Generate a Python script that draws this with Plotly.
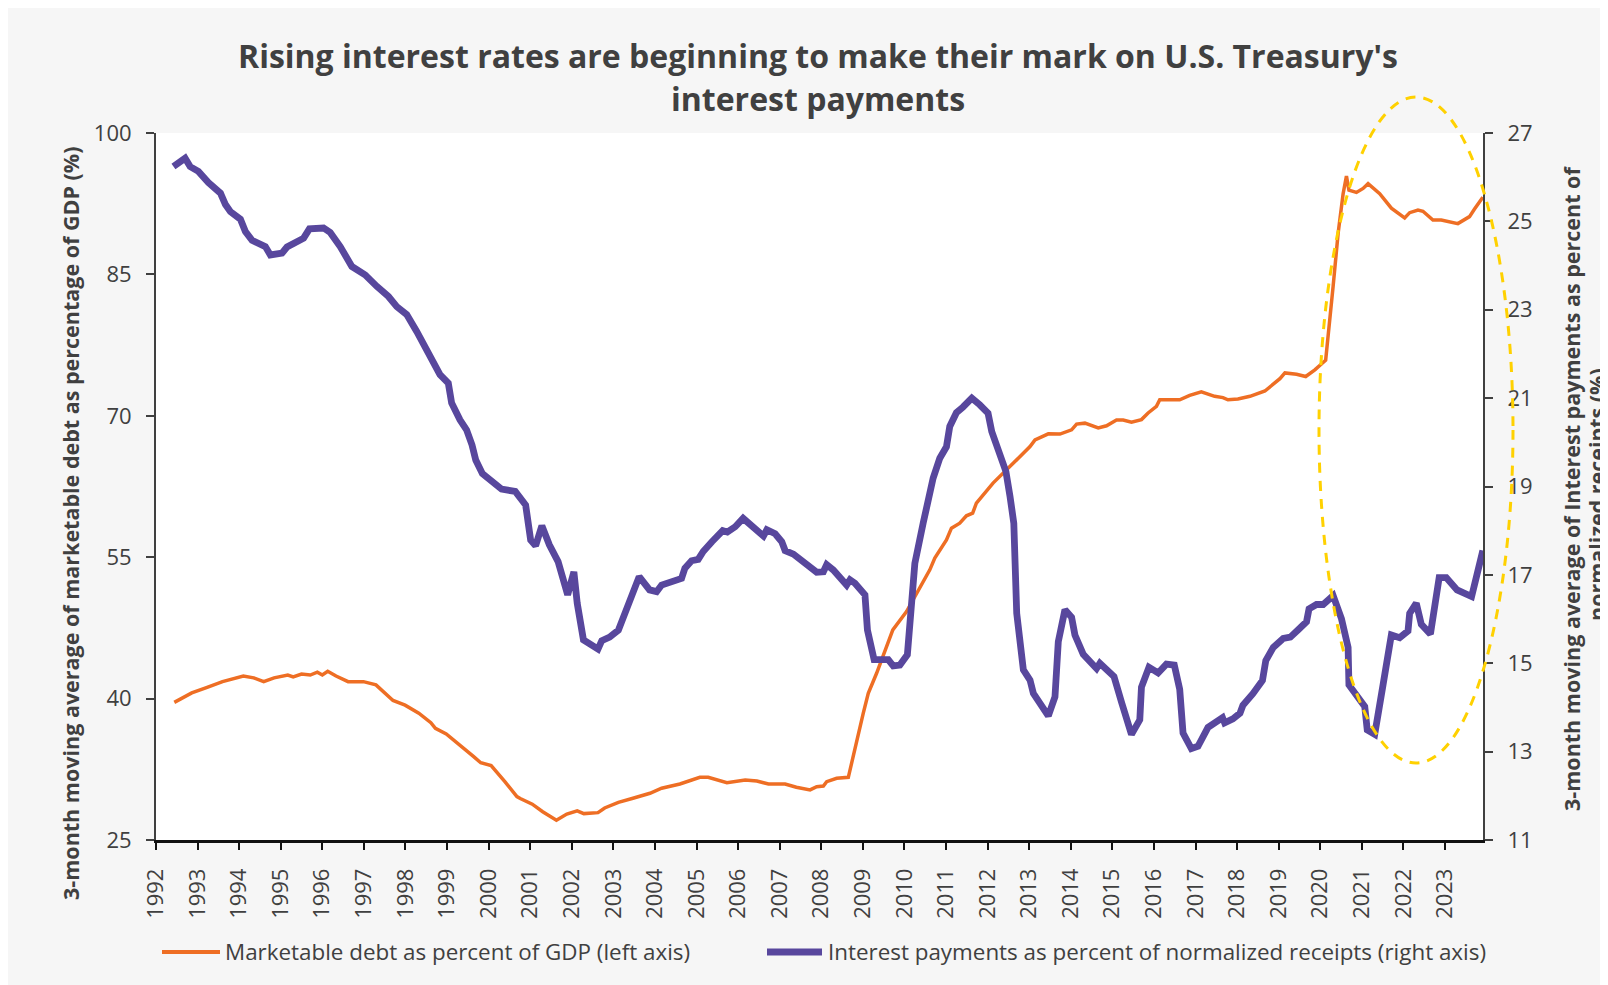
import plotly.graph_objects as go

# ---------------- data ----------------
debt_years = [1992.44, 1992.69, 1992.86, 1993.23, 1993.60, 1994.10, 1994.35, 1994.59, 1994.84, 1995.17,
              1995.30, 1995.50, 1995.71, 1995.88, 1996.00, 1996.13, 1996.33, 1996.62, 1996.99, 1997.29,
              1997.70, 1997.99, 1998.32, 1998.61, 1998.72, 1998.98, 1999.31, 1999.64, 1999.81, 2000.06,
              2000.39, 2000.68, 2000.76, 2001.05, 2001.30, 2001.63, 2001.88, 2002.13, 2002.29, 2002.63,
              2002.79, 2003.12, 2003.45, 2003.88, 2004.16, 2004.60, 2005.08, 2005.28, 2005.73, 2005.93,
              2006.17, 2006.45, 2006.73, 2007.13, 2007.40, 2007.73, 2007.89, 2008.05, 2008.13, 2008.37,
              2008.65, 2009.01, 2009.13, 2009.33, 2009.59, 2009.72, 2010.05, 2010.29, 2010.61, 2010.73,
              2011.01, 2011.13, 2011.33, 2011.49, 2011.64, 2011.73, 2012.13, 2012.62, 2013.02, 2013.14,
              2013.46, 2013.74, 2014.02, 2014.14, 2014.34, 2014.66, 2014.86, 2015.10, 2015.26, 2015.46,
              2015.70, 2015.86, 2016.06, 2016.14, 2016.62, 2016.86, 2017.14, 2017.46, 2017.66, 2017.78,
              2018.02, 2018.31, 2018.67, 2019.03, 2019.15, 2019.43, 2019.65, 2019.87, 2020.13, 2020.31,
              2020.43, 2020.55, 2020.63, 2020.69, 2020.87, 2021.03, 2021.15, 2021.43, 2021.71, 2022.03,
              2022.15, 2022.35, 2022.47, 2022.71, 2022.91, 2023.31, 2023.59, 2023.71, 2023.91]
debt_pct = [39.6, 40.2, 40.6, 41.2, 41.8, 42.4, 42.2, 41.8, 42.2, 42.5,
            42.3, 42.6, 42.5, 42.8, 42.5, 42.9, 42.4, 41.8, 41.8, 41.45,
            39.8, 39.3, 38.45, 37.45, 36.85, 36.25, 35.1, 33.85, 33.2, 32.9,
            31.2, 29.6, 29.4, 28.8, 28.0, 27.1, 27.75, 28.1, 27.8, 27.9,
            28.4, 29.0, 29.4, 29.96, 30.49, 30.94, 31.65, 31.65, 31.08, 31.19,
            31.37, 31.26, 30.94, 30.94, 30.59, 30.31, 30.66, 30.73, 31.19, 31.55,
            31.65, 38.45, 40.57, 42.69, 45.70, 47.29, 49.23, 51.18, 53.66, 54.90,
            56.84, 58.08, 58.61, 59.39, 59.67, 60.73, 62.86, 64.98, 66.74, 67.45,
            68.09, 68.06, 68.51, 69.12, 69.22, 68.71, 68.94, 69.55, 69.55, 69.32,
            69.6, 70.3, 71.0, 71.7, 71.7, 72.17, 72.54, 72.07, 71.93, 71.7,
            71.79, 72.07, 72.63, 73.94, 74.55, 74.41, 74.17, 74.87, 75.90, 83.75,
            89.36, 93.56, 95.43, 93.93, 93.70, 94.12, 94.63, 93.56, 92.02, 91.0,
            91.55, 91.83, 91.70, 90.76, 90.76, 90.39, 91.13, 91.93, 93.19]

int_years = [1992.42, 1992.58, 1992.70, 1992.82, 1993.02, 1993.26, 1993.55, 1993.67, 1993.79, 1994.03,
             1994.15, 1994.31, 1994.63, 1994.75, 1995.03, 1995.15, 1995.55, 1995.69, 1996.03, 1996.19,
             1996.43, 1996.71, 1997.03, 1997.31, 1997.59, 1997.79, 1998.03, 1998.27, 1998.55, 1998.83,
             1999.03, 1999.11, 1999.31, 1999.47, 1999.60, 1999.69, 1999.85, 2000.06, 2000.31, 2000.64,
             2000.89, 2001.01, 2001.13, 2001.28, 2001.46, 2001.67, 2001.76, 2001.90, 2002.05, 2002.13,
             2002.28, 2002.63, 2002.72, 2002.91, 2003.12, 2003.37, 2003.62, 2003.87, 2004.04, 2004.16,
             2004.36, 2004.64, 2004.72, 2004.88, 2005.04, 2005.16, 2005.37, 2005.63, 2005.74, 2005.93,
             2006.12, 2006.37, 2006.61, 2006.69, 2006.89, 2007.05, 2007.13, 2007.33, 2007.65, 2007.89,
             2008.05, 2008.13, 2008.29, 2008.61, 2008.69, 2008.81, 2009.05, 2009.11, 2009.27, 2009.61,
             2009.73, 2009.89, 2010.07, 2010.15, 2010.25, 2010.45, 2010.61, 2010.69, 2010.85, 2011.01,
             2011.09, 2011.25, 2011.41, 2011.62, 2011.81, 2012.01, 2012.10, 2012.26, 2012.44, 2012.54,
             2012.63, 2012.70, 2012.86, 2013.02, 2013.10, 2013.46, 2013.62, 2013.70, 2013.86, 2014.02,
             2014.10, 2014.30, 2014.62, 2014.70, 2015.04, 2015.22, 2015.46, 2015.66, 2015.70, 2015.88,
             2016.10, 2016.30, 2016.49, 2016.62, 2016.70, 2016.90, 2017.06, 2017.30, 2017.50, 2017.65,
             2017.70, 2017.90, 2018.07, 2018.14, 2018.38, 2018.61, 2018.69, 2018.87, 2019.11, 2019.28,
             2019.47, 2019.67, 2019.73, 2019.91, 2020.07, 2020.31, 2020.51, 2020.67, 2020.69, 2021.07,
             2021.13, 2021.31, 2021.51, 2021.71, 2021.91, 2022.11, 2022.15, 2022.31, 2022.43, 2022.65,
             2022.86, 2023.03, 2023.29, 2023.64, 2023.91]
int_pct = [26.24, 26.34, 26.43, 26.24, 26.13, 25.88, 25.64, 25.38, 25.22, 25.05,
           24.77, 24.57, 24.43, 24.24, 24.28, 24.42, 24.62, 24.83, 24.85, 24.75,
           24.43, 23.98, 23.79, 23.53, 23.30, 23.07, 22.89, 22.51, 22.05, 21.53,
           21.34, 20.89, 20.51, 20.28, 19.94, 19.60, 19.29, 19.15, 18.94, 18.89,
           18.58, 17.79, 17.66, 18.11, 17.68, 17.30, 16.96, 16.55, 17.07, 16.36,
           15.53, 15.32, 15.51, 15.59, 15.75, 16.39, 16.96, 16.66, 16.62, 16.77,
           16.83, 16.92, 17.15, 17.32, 17.35, 17.53, 17.75, 18.00, 17.97, 18.09,
           18.28, 18.06, 17.88, 18.02, 17.93, 17.75, 17.55, 17.47, 17.26, 17.06,
           17.07, 17.23, 17.11, 16.77, 16.89, 16.81, 16.55, 15.75, 15.08, 15.08,
           14.94, 14.96, 15.19, 16.28, 17.26, 18.17, 18.85, 19.19, 19.64, 19.90,
           20.36, 20.67, 20.80, 21.00, 20.85, 20.66, 20.24, 19.79, 19.34, 18.77,
           18.17, 16.13, 14.85, 14.62, 14.32, 13.81, 14.24, 15.49, 16.21, 16.04,
           15.64, 15.20, 14.88, 15.00, 14.70, 14.12, 13.39, 13.72, 14.46, 14.91,
           14.78, 14.98, 14.96, 14.41, 13.42, 13.07, 13.12, 13.55, 13.70, 13.77,
           13.65, 13.74, 13.87, 14.05, 14.31, 14.61, 15.06, 15.36, 15.56, 15.59,
           15.76, 15.94, 16.23, 16.33, 16.33, 16.53, 16.01, 15.36, 14.51, 14.02,
           13.49, 13.39, 14.51, 15.64, 15.58, 15.73, 16.13, 16.36, 15.88, 15.66,
           16.94, 16.94, 16.66, 16.51, 17.55]

year_ticks = list(range(1992, 2024))
year_labels = [str(y) for y in year_ticks]
left_ticks = [25, 40, 55, 70, 85, 100]
right_ticks = [11, 13, 15, 17, 19, 21, 23, 25, 27]

title_line1 = "Rising interest rates are beginning to make their mark on U.S. Treasury's"
title_line2 = "interest payments"
left_title = "3-month moving average of marketable debt as percentage of GDP (%)"
right_title1 = "3-month moving average of Interest payments as percent of"
right_title2 = "normalized receipts (%)"
debt_name = "Marketable debt as percent of GDP (left axis)"
int_name = "Interest payments as percent of normalized receipts (right axis)"

# ---------------- styling ----------------
W, H = 1608, 985
OFF = 8  # page offset of the figure (body margin)
ML, MR, MT, MB = 148, 133, 125, 153
PW, PH = W - ML - MR, H - MT - MB
FONT = "Open Sans"
TXT = "#404040"
ORANGE = "#EE6E24"
PURPLE = "#58479D"
YELLOW = "#FFD100"
BG = "#F6F6F6"


def px_x(p):  # page pixel -> paper x
    return (p - OFF - ML) / PW


def px_y(p):  # page pixel -> paper y
    return (H - MB - (p - OFF)) / PH


fig = go.Figure()
fig.add_trace(go.Scatter(x=debt_years, y=debt_pct, mode="lines", name=debt_name,
                         line=dict(color=ORANGE, width=3.5), yaxis="y", showlegend=False))
fig.add_trace(go.Scatter(x=int_years, y=int_pct, mode="lines", name=int_name,
                         line=dict(color=PURPLE, width=6.8), yaxis="y2", showlegend=False))

shapes = [
    dict(type="circle", xref="paper", yref="paper", x0=px_x(1319), x1=px_x(1513), y0=px_y(763), y1=px_y(97),
         line=dict(color=YELLOW, width=3, dash="10px,8px"), layer="above"),
    dict(type="line", xref="paper", yref="paper", x0=px_x(162), x1=px_x(220), y0=px_y(952), y1=px_y(952),
         line=dict(color=ORANGE, width=4)),
    dict(type="line", xref="paper", yref="paper", x0=px_x(767), x1=px_x(822), y0=px_y(952), y1=px_y(952),
         line=dict(color=PURPLE, width=7)),
]

bold = dict(family=FONT, size=21.5, color=TXT, weight="bold")
annotations = [
    dict(text=title_line1, xref="paper", yref="paper", x=px_x(818), y=px_y(56), showarrow=False,
         xanchor="center", yanchor="middle", font=dict(family=FONT, size=32, color=TXT, weight="bold")),
    dict(text=title_line2, xref="paper", yref="paper", x=px_x(818), y=px_y(99), showarrow=False,
         xanchor="center", yanchor="middle", font=dict(family=FONT, size=32, color=TXT, weight="bold")),
    dict(text=left_title, xref="paper", yref="paper", x=px_x(70), y=px_y(524), textangle=-90,
         showarrow=False, xanchor="center", yanchor="middle", font=bold),
    dict(text=right_title1, xref="paper", yref="paper", x=px_x(1571), y=px_y(489), textangle=-90,
         showarrow=False, xanchor="center", yanchor="middle", font=bold),
    dict(text=right_title2, xref="paper", yref="paper", x=px_x(1596), y=px_y(495), textangle=-90,
         showarrow=False, xanchor="center", yanchor="middle", font=bold),
    dict(text=debt_name, xref="paper", yref="paper", x=px_x(223), y=px_y(952), showarrow=False,
         xanchor="left", yanchor="middle", font=dict(family=FONT, size=22.4, color=TXT)),
    dict(text=int_name, xref="paper", yref="paper", x=px_x(826), y=px_y(952), showarrow=False,
         xanchor="left", yanchor="middle", font=dict(family=FONT, size=22.4, color=TXT)),
]

tickfont = dict(family=FONT, size=22, color=TXT)
fig.update_layout(
    width=W, height=H,
    margin=dict(l=ML, r=MR, t=MT, b=MB, autoexpand=False),
    paper_bgcolor=BG, plot_bgcolor="white",
    font=dict(family=FONT, color=TXT, size=20),
    showlegend=False,
    shapes=shapes,
    annotations=annotations,
    xaxis=dict(range=[1992, 2023.914], tickmode="array", tickvals=year_ticks, ticktext=year_labels,
               tickangle=-90, ticks="outside", ticklen=7, tickwidth=2, tickcolor="#111111",
               showline=True, linecolor="#111111", linewidth=2.5, showgrid=False, zeroline=False,
               ticklabelstandoff=10, tickfont=tickfont),
    yaxis=dict(range=[25, 100], tickmode="array", tickvals=left_ticks, ticks="outside", ticklen=8,
               tickwidth=2, tickcolor="#404040", showline=True, linecolor="#404040", linewidth=2,
               showgrid=False, zeroline=False, ticklabelstandoff=10, tickfont=tickfont),
    yaxis2=dict(range=[11, 27], tickmode="array", tickvals=right_ticks, overlaying="y", side="right",
                ticks="outside", ticklen=8, tickwidth=2, tickcolor="#404040", showline=True,
                linecolor="#404040", linewidth=2, showgrid=False, zeroline=False,
                ticklabelstandoff=10, tickfont=tickfont),
)

fig.write_html("out.html")
